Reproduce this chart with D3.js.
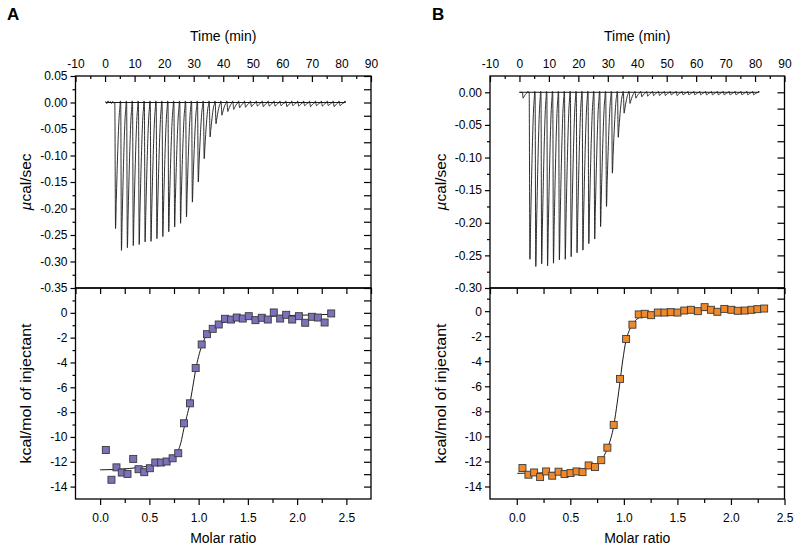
<!DOCTYPE html>
<html><head><meta charset="utf-8">
<script src="https://cdn.jsdelivr.net/npm/d3@7"></script>
<style>
body{margin:0;background:#fff}
text{font-family:"Liberation Sans",Arial,sans-serif;fill:#000}
</style>
</head><body>
<svg id="chart" width="800" height="551"></svg>
<script>
// ---------- data ----------
const timeMajor = [-10,0,10,20,30,40,50,60,70,80,90];
const timeMinor = [-5,5,15,25,35,45,55,65,75,85];
const molarMajor = [0,0.5,1,1.5,2,2.5];
const molarMinor = [-0.25,0.25,0.75,1.25,1.75,2.25,2.75];
const heatMajor = [0,-2,-4,-6,-8,-10,-12,-14];
const heatMinor = [1,-1,-3,-5,-7,-9,-11,-13,-15];

const powerMajorA = [0.05,0,-0.05,-0.1,-0.15,-0.2,-0.25,-0.3,-0.35];
const powerMinorA = [0.025,-0.025,-0.075,-0.125,-0.175,-0.225,-0.275,-0.325];
const powerMajorB = [0,-0.05,-0.1,-0.15,-0.2,-0.25,-0.3];
const powerMinorB = [-0.025,-0.075,-0.125,-0.175,-0.225,-0.275];

// thermogram A: injection times (min) and peak minima (µcal/sec)
const injTimeA = [3.3,5.3,7.3,9.3,11.3,13.3,15.3,17.3,19.3,21.3,23.3,25.3,27.3,29.3,31.3,33.3,35.3,37.3,39.3,41.3,
  43.3,45.3,47.3,49.3,51.3,53.3,55.3,57.3,59.3,61.3,63.3,65.3,67.3,69.3,71.3,73.3,75.3,77.3,79.3];
const peakA = [-0.238,-0.279,-0.274,-0.270,-0.268,-0.263,-0.262,-0.257,-0.253,-0.244,-0.235,-0.228,-0.216,-0.188,-0.150,
  -0.106,-0.065,-0.040,-0.024,-0.017,-0.013,-0.010,-0.009,-0.008,-0.007,-0.008,-0.007,-0.007,-0.006,-0.008,
  -0.006,-0.007,-0.006,-0.008,-0.006,-0.007,-0.006,-0.008,-0.006];
// baseline bump right after each injection (µcal/sec)
const bumpA = 0.003;
const preTimeA = [0.2,0.6,1.0,1.4,1.8,2.2,2.6,3.0];
const preValA = [0.002,-0.002,0.003,-0.001,0.002,-0.002,0.002,-0.001];

// thermogram B
const injTimeB = [1.0,3.3,5.3,7.3,9.3,11.3,13.3,15.3,17.3,19.3,21.3,23.3,25.3,27.3,29.3,31.3,33.3,35.3,37.3,39.3,41.3,
  43.3,45.3,47.3,49.3,51.3,53.3,55.3,57.3,59.3,61.3,63.3,65.3,67.3,69.3,71.3,73.3,75.3,77.3,79.3];
const peakB = [-0.009,-0.256,-0.267,-0.263,-0.266,-0.262,-0.257,-0.256,-0.252,-0.246,-0.242,-0.232,-0.225,-0.206,-0.175,
  -0.124,-0.069,-0.032,-0.017,-0.009,-0.007,-0.006,-0.005,-0.005,-0.005,-0.004,-0.005,-0.004,-0.004,-0.004,
  -0.004,-0.004,-0.004,-0.004,-0.004,-0.004,-0.004,-0.004,-0.004,-0.004];
const bumpB = 0.0015;
const preTimeB = [0.0,0.5];
const preValB = [0.0,0.0];

// peak shape (time offset after injection, fraction of peak depth)
const shapeOffset = [0,0.25,0.5,0.75,1.0,1.25,1.5,1.75,2.0];
const shapeFrac = [0,1,0.78,0.57,0.38,0.22,0.1,0.03,0];

// integrated heats A
const ratioA = [0.058,0.115,0.166,0.220,0.278,0.336,0.390,0.448,0.505,0.560,0.617,0.675,0.736,0.793,0.851,0.912,0.970,
  1.031,1.085,1.143,1.204,1.268,1.329,1.387,1.448,1.509,1.577,1.641,1.702,1.763,1.828,1.889,1.950,2.018,2.082,
  2.150,2.211,2.279,2.346];
const heatA = [-11.05,-13.45,-12.45,-12.87,-12.98,-11.77,-12.6,-12.84,-12.52,-12.06,-12.06,-11.98,-11.72,-11.31,-8.9,
  -7.29,-4.45,-2.55,-1.72,-1.29,-0.94,-0.48,-0.54,-0.38,-0.46,-0.27,-0.59,-0.40,-0.54,0.03,-0.46,-0.16,-0.54,
  -0.27,-0.80,-0.32,-0.38,-0.78,-0.05];
const fitRatioA = [0,0.2,0.4,0.55,0.65,0.72,0.76,0.79,0.82,0.85,0.88,0.91,0.94,0.97,1.0,1.03,1.06,1.1,1.15,1.2,1.3,1.45,1.7,2.0,2.35];
const fitHeatA = [-12.65,-12.6,-12.45,-12.25,-12.0,-11.7,-11.45,-11.15,-10.45,-9.35,-8.35,-7.35,-6.0,-4.6,-3.5,-2.7,
  -2.1,-1.6,-1.2,-0.95,-0.68,-0.48,-0.3,-0.2,-0.12];

// integrated heats B
const ratioB = [0.053,0.109,0.162,0.218,0.274,0.331,0.390,0.446,0.502,0.558,0.614,0.671,0.730,0.789,0.846,0.905,0.964,
  1.021,1.080,1.139,1.195,1.255,1.317,1.379,1.438,1.501,1.564,1.626,1.691,1.754,1.813,1.873,1.938,2.004,2.063,
  2.129,2.191,2.247,2.310];
const heatB = [-12.53,-13.06,-12.88,-13.25,-12.80,-13.14,-12.82,-13.01,-12.93,-12.80,-12.85,-12.32,-12.45,-11.90,-10.90,
  -9.08,-5.41,-2.22,-1.08,-0.26,-0.21,-0.32,-0.11,-0.11,-0.08,-0.11,0.05,0.11,0.0,0.32,0.11,-0.05,0.18,0.11,
  0.03,0.05,0.11,0.16,0.21];
const fitRatioB = [0.005,0.2,0.4,0.55,0.65,0.72,0.78,0.83,0.87,0.9,0.93,0.96,0.99,1.02,1.05,1.08,1.12,1.17,1.25,1.4,1.6,1.9,2.31];
const fitHeatB = [-12.95,-12.92,-12.85,-12.72,-12.55,-12.35,-12.0,-11.3,-10.4,-9.4,-7.8,-5.9,-3.9,-2.35,-1.55,-1.05,
  -0.65,-0.4,-0.2,-0.05,0.03,0.1,0.15];

// ---------- drawing ----------
const svg = d3.select('#chart');

function buildTrace(preT, preV, injT, peaks, bump, endT) {
  const pts = preT.map((t,i)=>[t, preV[i]]);
  injT.forEach((t,i)=>{
    shapeOffset.forEach((o,k)=>{
      if (k===shapeOffset.length-1 && i<injT.length-1 && injT[i+1] <= t+o) return;
      pts.push([t+o, peaks[i]*shapeFrac[k]]);
      if (k===shapeOffset.length-2) pts.push([t+o+0.12, bump]);
    });
  });
  pts.push([endT, 0.002]);
  return pts;
}

function panel(cfg) {
  const g = svg.append('g');
  const xT = d3.scaleLinear().domain([-10,90]).range([cfg.left, cfg.right]);
  const yP = d3.scaleLinear().domain(cfg.powerDomain).range([cfg.mid, cfg.top]);
  const xM = d3.scaleLinear().domain(cfg.molarDomain).range([cfg.left, cfg.right]);
  const yH = d3.scaleLinear().domain(cfg.heatDomain).range([cfg.bottom, cfg.mid]);
  const f2 = d => d.toFixed(2);
  const f1 = d => d.toFixed(1);
  const f0 = d => String(d);

  const ax = (axis, tx, ty) => {
    const a = g.append('g').attr('transform', `translate(${tx},${ty})`).call(axis);
    a.select('.domain').remove();
    a.selectAll('line').attr('stroke','#000').attr('stroke-width',1.2);
    a.selectAll('text').attr('font-size',12).attr('font-family','"Liberation Sans",Arial,sans-serif').attr('fill','#000');
    return a;
  };
  // time axis (top)
  ax(d3.axisTop(xT).tickValues(timeMajor).tickSize(-6).tickPadding(8).tickFormat(f0), 0, cfg.top);
  ax(d3.axisTop(xT).tickValues(timeMinor).tickSize(-3).tickFormat(''), 0, cfg.top);
  // power axis
  ax(d3.axisLeft(yP).tickValues(cfg.powerMajor).tickSize(5).tickPadding(3).tickFormat(f2), cfg.left, 0);
  ax(d3.axisLeft(yP).tickValues(cfg.powerMinor).tickSize(3).tickFormat(''), cfg.left, 0);
  ax(d3.axisRight(yP).tickValues(cfg.powerMajor.concat(cfg.powerMinor)).tickSize(-7).tickFormat(''), cfg.right, 0);
  // divider ticks
  ax(d3.axisBottom(xM).tickValues(molarMajor.concat(molarMinor)).tickSize(6).tickFormat(''), 0, cfg.mid);
  // heat axis
  ax(d3.axisLeft(yH).tickValues(heatMajor).tickSize(5).tickPadding(3).tickFormat(f0), cfg.left, 0);
  ax(d3.axisLeft(yH).tickValues(heatMinor.filter(v=>v>cfg.heatDomain[0]&&v<cfg.heatDomain[1])).tickSize(3).tickFormat(''), cfg.left, 0);
  ax(d3.axisRight(yH).tickValues(heatMajor.concat(heatMinor).filter(v=>v>cfg.heatDomain[0]&&v<cfg.heatDomain[1])).tickSize(-7).tickFormat(''), cfg.right, 0);
  // molar axis (bottom)
  ax(d3.axisBottom(xM).tickValues(molarMajor).tickSize(6).tickPadding(8).tickFormat(f1), 0, cfg.bottom);
  ax(d3.axisBottom(xM).tickValues(molarMinor.filter(v=>v>cfg.molarDomain[0]&&v<cfg.molarDomain[1])).tickSize(4).tickFormat(''), 0, cfg.bottom);

  // thermogram
  const trace = buildTrace(cfg.preT, cfg.preV, cfg.injT, cfg.peaks, cfg.bump, cfg.endT);
  g.append('line').attr('x1', xT(cfg.preT[0])).attr('x2', xT(cfg.endT)).attr('y1', yP(0)).attr('y2', yP(0))
    .attr('stroke','#000').attr('stroke-width',0.9);
  g.append('path').datum(trace)
    .attr('d', d3.line().x(d=>xT(d[0])).y(d=>yP(d[1])).curve(d3.curveMonotoneX))
    .attr('fill','none').attr('stroke','#1a1a1a').attr('stroke-width',0.9);

  // fit line
  g.append('path').datum(cfg.fitX.map((x,i)=>[x, cfg.fitY[i]]))
    .attr('d', d3.line().x(d=>xM(d[0])).y(d=>yH(d[1])).curve(d3.curveMonotoneX))
    .attr('fill','none').attr('stroke','#000').attr('stroke-width',0.9);
  // points
  const s = 7;
  g.selectAll('rect.pt').data(cfg.ratio.map((r,i)=>[r, cfg.heat[i]])).enter().append('rect')
    .attr('class','pt')
    .attr('x', d=>xM(d[0])-s/2).attr('y', d=>yH(d[1])-s/2).attr('width', s).attr('height', s)
    .attr('fill', cfg.color).attr('stroke','#3a3a3a').attr('stroke-width',0.9);

  // frames
  g.append('rect').attr('x',cfg.left).attr('y',cfg.top).attr('width',cfg.right-cfg.left).attr('height',cfg.mid-cfg.top)
    .attr('fill','none').attr('stroke','#000').attr('stroke-width',1.3);
  g.append('rect').attr('x',cfg.left).attr('y',cfg.mid).attr('width',cfg.right-cfg.left).attr('height',cfg.bottom-cfg.mid)
    .attr('fill','none').attr('stroke','#000').attr('stroke-width',1.3);

  // titles
  const cx = (cfg.left+cfg.right)/2;
  g.append('text').attr('x',cx).attr('y',41).attr('text-anchor','middle').attr('font-size',14).text('Time (min)');
  g.append('text').attr('x',cx).attr('y',543).attr('text-anchor','middle').attr('font-size',14).text('Molar ratio');
  const t1 = g.append('text').attr('transform',`translate(${cfg.titleX},${(cfg.top+cfg.mid)/2}) rotate(-90) scale(1.1,1)`)
    .attr('text-anchor','middle').attr('font-size',14);
  t1.append('tspan').attr('font-style','italic').text('\u00B5');
  t1.append('tspan').text('cal/sec');
  g.append('text').attr('transform',`translate(${cfg.titleX},${(cfg.mid+cfg.bottom)/2}) rotate(-90) scale(1.14,1)`)
    .attr('text-anchor','middle').attr('font-size',14).text('kcal/mol of injectant');
  g.append('text').attr('x',cfg.letterX).attr('y',20).attr('font-size',17).attr('font-weight','bold').text(cfg.letter);
}

panel({
  letter:'A', letterX:7, titleX:31,
  left:75.5, right:371, top:76, mid:288, bottom:499,
  powerDomain:[-0.35,0.05], powerMajor:powerMajorA, powerMinor:powerMinorA,
  molarDomain:[-0.25,2.75], heatDomain:[-15,2],
  preT:preTimeA, preV:preValA, injT:injTimeA, peaks:peakA, bump:bumpA, endT:81.3,
  ratio:ratioA, heat:heatA, fitX:fitRatioA, fitY:fitHeatA, color:'#7b72bb'
});
panel({
  letter:'B', letterX:432, titleX:446,
  left:490, right:784.5, top:76, mid:288, bottom:499,
  powerDomain:[-0.30,0.025], powerMajor:powerMajorB, powerMinor:powerMinorB,
  molarDomain:[-0.25,2.5], heatDomain:[-15,1.85],
  preT:preTimeB, preV:preValB, injT:injTimeB, peaks:peakB, bump:bumpB, endT:81.3,
  ratio:ratioB, heat:heatB, fitX:fitRatioB, fitY:fitHeatB, color:'#f0892a'
});
</script>
</body></html>
